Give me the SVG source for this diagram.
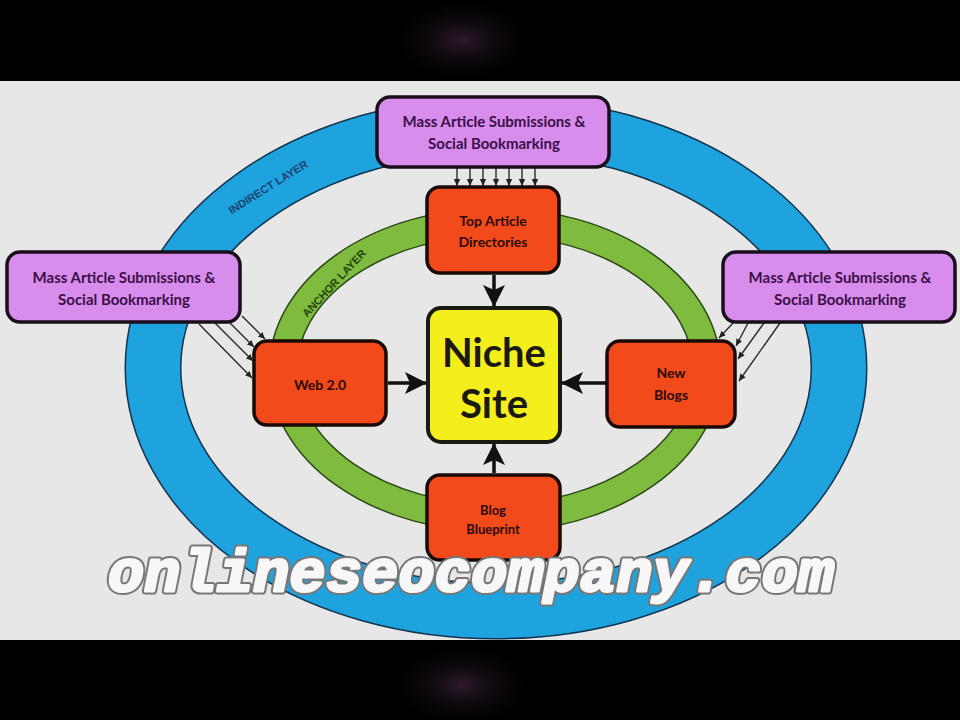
<svg xmlns="http://www.w3.org/2000/svg" width="960" height="720" viewBox="0 0 960 720">
<defs>
<style>
.bg{fill:#000}
.panel{fill:#e7e7e7}
.purple{fill:#d88ceb;stroke:#1a0d1c;stroke-width:3.5}
.orange{fill:#f24a1b;stroke:#1a0a05;stroke-width:3.5}
.yellow{fill:#f3ee1c;stroke:#1a1a10;stroke-width:4}
.ptxt{font-family:Lato,"Noto Sans",sans-serif;font-weight:700;font-size:15px;fill:#3a1048;text-anchor:middle}
.otxt{font-family:Lato,"Noto Sans",sans-serif;font-weight:700;font-size:14px;fill:#2a0c06;text-anchor:middle}
.ntxt{font-family:Lato,"Noto Sans",sans-serif;font-weight:700;font-size:40px;fill:#1a1a12;text-anchor:middle}
.thick{stroke:#111;stroke-width:3.5;fill:none}
.thin{stroke:#2a2a2a;stroke-width:1.4;fill:none}
.ring{font-family:"Liberation Sans",Arial,sans-serif;font-weight:700;font-size:11px;text-anchor:middle}
.wm{font-family:"Liberation Mono","Courier New",monospace;font-weight:700;font-style:italic;font-size:60px}
.wm-back{fill:#777;stroke:#777;stroke-width:7;stroke-linejoin:round}
.wm-front{fill:#f7f7f7;stroke:#f7f7f7;stroke-width:3;stroke-linejoin:round}
</style>
<radialGradient id="glow" cx="0.5" cy="0.5" r="0.5">
<stop offset="0" stop-color="#2c1a2c"/>
<stop offset="1" stop-color="#000" stop-opacity="0"/>
</radialGradient>
<marker id="big" markerUnits="userSpaceOnUse" markerWidth="24" markerHeight="24" viewBox="0 0 24 24" refX="22" refY="12" orient="auto">
<path d="M0,1 L22,12 L0,23 L5,12 Z" fill="#111"/>
</marker>
<marker id="small" markerUnits="userSpaceOnUse" markerWidth="8" markerHeight="8" viewBox="0 0 8 8" refX="7" refY="4" orient="auto">
<path d="M0,0.8 L7,4 L0,7.2 Z" fill="#222"/>
</marker>
</defs>

<rect class="bg" x="0" y="0" width="960" height="720"/>
<ellipse cx="462" cy="40" rx="80" ry="45" fill="url(#glow)"/>
<ellipse cx="462" cy="685" rx="80" ry="45" fill="url(#glow)"/>
<rect class="panel" x="0" y="81" width="960" height="559"/>

<g id="rings">
<ellipse cx="496" cy="368" rx="343" ry="243" fill="none" stroke="#10344f" stroke-width="57"/>
<ellipse cx="496" cy="368" rx="343" ry="243" fill="none" stroke="#1ea3de" stroke-width="54"/>
<ellipse cx="495" cy="370" rx="212" ry="148" fill="none" stroke="#2c4a18" stroke-width="29"/>
<ellipse cx="495" cy="370" rx="212" ry="148" fill="none" stroke="#7fbb3e" stroke-width="26"/>
<text class="ring" x="268" y="191" fill="#1b4270" transform="rotate(-32 268 187)">INDIRECT LAYER</text>
<text class="ring" x="334" y="287" fill="#24440f" transform="rotate(-47 334 283)">ANCHOR LAYER</text>
</g>

<g id="connectors">
<line class="thick" x1="494" y1="275" x2="494" y2="307" marker-end="url(#big)"/>
<line class="thick" x1="388" y1="383" x2="427" y2="383" marker-end="url(#big)"/>
<line class="thick" x1="606" y1="383" x2="561" y2="383" marker-end="url(#big)"/>
<line class="thick" x1="494" y1="473" x2="494" y2="443" marker-end="url(#big)"/>
<line class="thin" x1="457" y1="167" x2="457" y2="186" marker-end="url(#small)"/>
<line class="thin" x1="470" y1="167" x2="470" y2="186" marker-end="url(#small)"/>
<line class="thin" x1="483" y1="167" x2="483" y2="186" marker-end="url(#small)"/>
<line class="thin" x1="496" y1="167" x2="496" y2="186" marker-end="url(#small)"/>
<line class="thin" x1="509" y1="167" x2="509" y2="186" marker-end="url(#small)"/>
<line class="thin" x1="522" y1="167" x2="522" y2="186" marker-end="url(#small)"/>
<line class="thin" x1="535" y1="167" x2="535" y2="186" marker-end="url(#small)"/>
<line class="thin" x1="199" y1="324" x2="252" y2="378" marker-end="url(#small)"/>
<line class="thin" x1="215" y1="323" x2="253" y2="361" marker-end="url(#small)"/>
<line class="thin" x1="230" y1="323" x2="254" y2="347" marker-end="url(#small)"/>
<line class="thin" x1="242" y1="316" x2="265" y2="339" marker-end="url(#small)"/>
<line class="thin" x1="733" y1="323" x2="719" y2="338" marker-end="url(#small)"/>
<line class="thin" x1="748" y1="323" x2="736" y2="346" marker-end="url(#small)"/>
<line class="thin" x1="764" y1="323" x2="738" y2="359" marker-end="url(#small)"/>
<line class="thin" x1="780" y1="323" x2="739" y2="381" marker-end="url(#small)"/>
</g>

<g id="mass-top">
<rect class="purple" x="377" y="97" width="232" height="70" rx="13"/>
<text class="ptxt" x="494" y="127">Mass Article Submissions &amp;</text>
<text class="ptxt" x="494" y="149">Social Bookmarking</text>
</g>

<g id="mass-left">
<rect class="purple" x="7" y="252" width="233" height="70" rx="13"/>
<text class="ptxt" x="124" y="283">Mass Article Submissions &amp;</text>
<text class="ptxt" x="124" y="305">Social Bookmarking</text>
</g>

<g id="mass-right">
<rect class="purple" x="723" y="252" width="232" height="70" rx="13"/>
<text class="ptxt" x="840" y="283">Mass Article Submissions &amp;</text>
<text class="ptxt" x="840" y="305">Social Bookmarking</text>
</g>

<g id="top-article">
<rect class="orange" x="427" y="187" width="132" height="86" rx="13"/>
<text class="otxt" x="493" y="226">Top Article</text>
<text class="otxt" x="493" y="247">Directories</text>
</g>

<g id="web20">
<rect class="orange" x="254" y="341" width="132" height="84" rx="13"/>
<text class="otxt" x="320" y="390">Web 2.0</text>
</g>

<g id="new-blogs">
<rect class="orange" x="607" y="341" width="128" height="86" rx="13"/>
<text class="otxt" x="671" y="378">New</text>
<text class="otxt" x="671" y="400">Blogs</text>
</g>

<g id="blog-blueprint">
<rect class="orange" x="427" y="475" width="133" height="85" rx="13"/>
<text class="otxt" x="493" y="515" style="font-size:13px">Blog</text>
<text class="otxt" x="493" y="534" style="font-size:13px">Blueprint</text>
</g>

<g id="niche-site">
<rect class="yellow" x="428" y="308" width="132" height="134" rx="13"/>
<text class="ntxt" x="494" y="367">Niche</text>
<text class="ntxt" x="494" y="418">Site</text>
</g>

<g id="watermark">
<text class="wm wm-back" x="108" y="591" textLength="726" lengthAdjust="spacing">onlineseocompany.com</text>
<text class="wm wm-front" x="108" y="591" textLength="726" lengthAdjust="spacing">onlineseocompany.com</text>
</g>
</svg>
